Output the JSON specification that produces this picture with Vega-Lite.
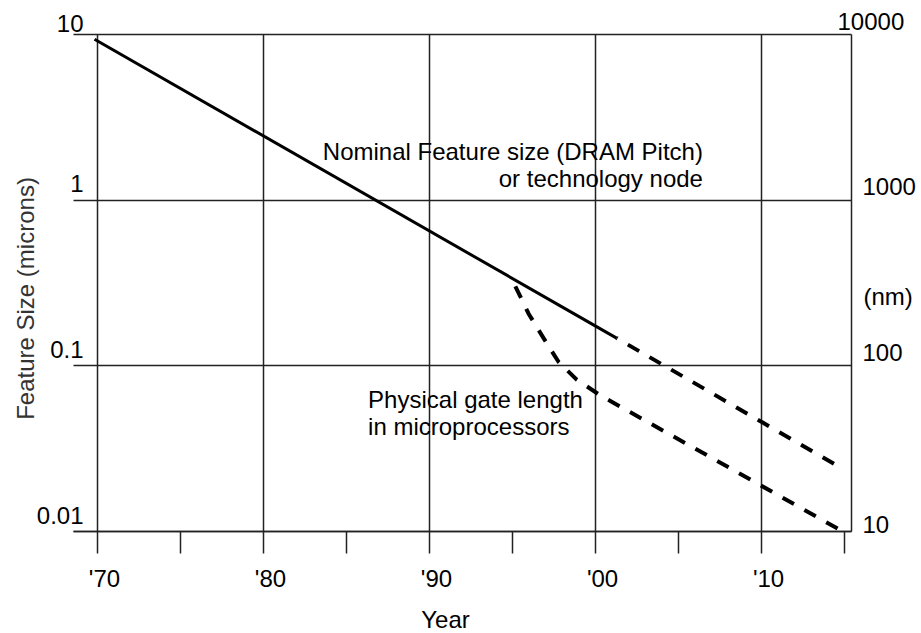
{
  "$schema": "https://vega.github.io/schema/vega-lite/v6.json",
  "width": 778,
  "height": 497,
  "autosize": {"type": "none"},
  "padding": {"left": 73, "top": 34, "right": 70, "bottom": 102},
  "background": "white",
  "config": {"view": {"stroke": null}, "font": "Liberation Sans"},
  "datasets": {
    "dram": [{"year": 1969.85, "value": 9.3}, {"year": 2001.3, "value": 0.146}],
    "dram_proj": [{"year": 2001.3, "value": 0.146}, {"year": 2015.0, "value": 0.0235}],
    "gate": [
      {"year": 1995.2, "value": 0.3},
      {"year": 1996.0, "value": 0.205},
      {"year": 1996.9, "value": 0.146},
      {"year": 1997.8, "value": 0.105},
      {"year": 1998.9, "value": 0.082},
      {"year": 2000.3, "value": 0.066},
      {"year": 2014.65, "value": 0.0103}
    ],
    "dram_label": [
      {"year": 2006.5, "value": 1.742, "text": "Nominal Feature size (DRAM Pitch)"},
      {"year": 2006.5, "value": 1.198, "text": "or technology node"}
    ],
    "gate_label": [
      {"year": 1986.33, "value": 0.0551, "text": "Physical gate length"},
      {"year": 1986.33, "value": 0.0379, "text": "in microprocessors"}
    ]
  },
  "encoding": {
    "x": {
      "field": "year",
      "type": "quantitative",
      "scale": {"domain": [1968.554, 2015.42], "nice": false, "zero": false},
      "axis": {
        "values": [1970, 1975, 1980, 1985, 1990, 1995, 2000, 2005, 2010, 2015],
        "labelExpr": "datum.value % 10 == 0 ? \"'\" + slice(toString(datum.value), 2) : ''",
        "grid": true,
        "gridColor": "#222",
        "gridWidth": 1.5,
        "gridOpacity": {"condition": {"test": "datum.value % 10 == 0", "value": 1}, "value": 0},
        "domain": true,
        "domainColor": "#222",
        "domainWidth": 1.5,
        "ticks": true,
        "tickSize": 22,
        "tickColor": "#222",
        "tickWidth": 1.5,
        "labelFontSize": 24,
        "labelColor": "black",
        "labelBaseline": "alphabetic",
        "labelAlign": "center",
        "labelPadding": 33,
        "labelOffset": 7,
        "labelFlush": false,
        "labelOverlap": false,
        "title": "Year",
        "titleFontSize": 24,
        "titleFontWeight": "normal",
        "titleColor": "black",
        "titleX": 372,
        "titleY": 96,
        "titleAlign": "center",
        "titleBaseline": "alphabetic"
      }
    }
  },
  "layer": [
    {
      "data": {"name": "dram"},
      "mark": {"type": "line", "color": "black", "strokeWidth": 3},
      "encoding": {
        "y": {
          "field": "value",
          "type": "quantitative",
          "scale": {"type": "log", "domain": [0.01, 10], "nice": false},
          "axis": {
            "orient": "left",
            "values": [0.01, 0.1, 1, 10],
            "labelExpr": "datum.value > 5 ? '10' : datum.value > 0.5 ? '1' : datum.value > 0.05 ? '0.1' : '0.01'",
            "grid": true,
            "gridColor": "#222",
            "gridWidth": 1.5,
            "domain": false,
            "ticks": false,
            "labelFontSize": 24,
            "labelColor": "black",
            "labelAlign": "right",
            "labelBaseline": "alphabetic",
            "labelPadding": -10,
            "labelOffset": {"condition": {"test": "datum.value > 5", "value": -3}, "value": -8},
            "labelFlush": false,
            "labelOverlap": false,
            "title": "Feature Size (microns)",
            "titleFontSize": 24,
            "titleFontWeight": "normal",
            "titleColor": "#333",
            "titleAngle": -90,
            "titleX": -40,
            "titleY": 264,
            "titleAlign": "center",
            "titleBaseline": "alphabetic"
          }
        }
      }
    },
    {
      "data": {"name": "gate"},
      "mark": {"type": "line", "color": "black", "strokeWidth": 4, "strokeDash": [13, 12]},
      "encoding": {
        "y": {
          "field": "value",
          "type": "quantitative",
          "scale": {"type": "log", "domain": [0.01, 10], "nice": false},
          "axis": {
            "orient": "right",
            "values": [0.01, 0.1, 1, 10],
            "labelExpr": "datum.value > 5 ? '10000' : datum.value > 0.5 ? '1000' : datum.value > 0.05 ? '100' : '10'",
            "grid": false,
            "domain": true,
            "domainColor": "#222",
            "domainWidth": 1.5,
            "ticks": false,
            "labelFontSize": 24,
            "labelColor": "black",
            "labelAlign": "left",
            "labelBaseline": "alphabetic",
            "labelPadding": {"condition": {"test": "datum.value > 5", "value": -14}, "value": 11},
            "labelOffset": {"condition": {"test": "datum.value < 0.05", "value": 1}, "value": -5},
            "labelFlush": false,
            "labelOverlap": false,
            "title": "(nm)",
            "titleFontSize": 24,
            "titleFontWeight": "normal",
            "titleColor": "black",
            "titleAngle": 0,
            "titleX": 12,
            "titleY": 263,
            "titleAlign": "left",
            "titleBaseline": "middle"
          }
        }
      }
    },
    {
      "data": {"name": "dram_proj"},
      "mark": {"type": "line", "color": "black", "strokeWidth": 4, "strokeDash": [13, 12], "strokeDashOffset": 12},
      "encoding": {
        "y": {
          "field": "value",
          "type": "quantitative",
          "scale": {"type": "log", "domain": [0.01, 10], "nice": false},
          "axis": null
        }
      }
    },
    {
      "data": {"name": "dram_label"},
      "mark": {"type": "text", "align": "right", "baseline": "alphabetic", "fontSize": 24, "color": "black"},
      "encoding": {
        "y": {
          "field": "value",
          "type": "quantitative",
          "scale": {"type": "log", "domain": [0.01, 10], "nice": false},
          "axis": null
        },
        "text": {"field": "text"}
      }
    },
    {
      "data": {"name": "gate_label"},
      "mark": {"type": "text", "align": "left", "baseline": "alphabetic", "fontSize": 24, "color": "black"},
      "encoding": {
        "y": {
          "field": "value",
          "type": "quantitative",
          "scale": {"type": "log", "domain": [0.01, 10], "nice": false},
          "axis": null
        },
        "text": {"field": "text"}
      }
    }
  ],
  "resolve": {"axis": {"y": "independent"}}
}
